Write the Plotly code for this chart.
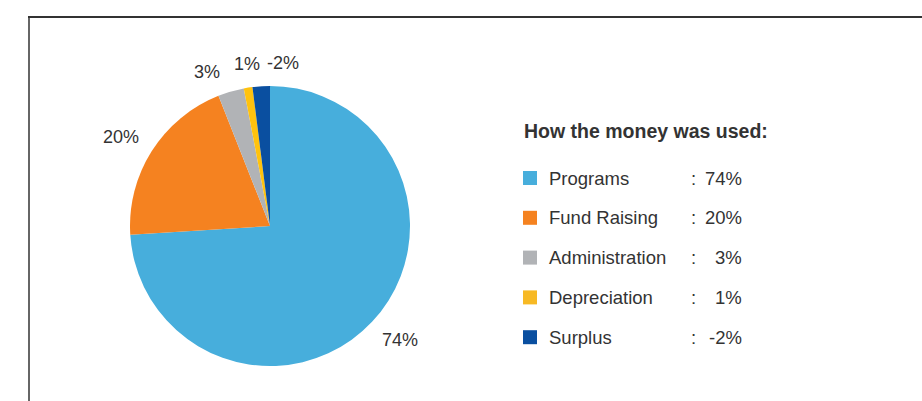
import math
import plotly.graph_objects as go

categories = ["Programs", "Fund Raising", "Administration", "Depreciation", "Surplus"]
percent = [74, 20, 3, 1, -2]
slice_colors = ["#47AEDC", "#F58220", "#B1B3B6", "#FFC20E", "#0A4FA0"]
legend_colors = ["#47AEDC", "#F58220", "#B1B3B6", "#F7B924", "#0A4FA0"]
title_text = "How the money was used:"

# label placement styling (angular nudge in degrees to avoid crowding)
label_shift_deg = [-2, -1.5, -6, 1, 8]

W, H = 922, 401
FONT = "Liberation Sans, Arial, sans-serif"
TXT = "#333333"
LBL_SIZE = 18

# pie geometry in pixels
CX, CY, R = 270, 226, 140

sizes = [abs(v) for v in percent]
total = sum(sizes)

fig = go.Figure()
fig.add_trace(go.Pie(
    labels=categories,
    values=sizes,
    text=[f"{v}%" for v in percent],
    textinfo="none",
    sort=False,
    direction="clockwise",
    rotation=0,
    marker=dict(colors=slice_colors, line=dict(width=0)),
    domain=dict(x=[(CX - R) / W, (CX + R) / W], y=[1 - (CY + R) / H, 1 - (CY - R) / H]),
    showlegend=False,
    hoverinfo="label+text",
))

def px(x):
    return x / W

def py(y):
    return 1 - y / H

annotations = []
# data labels outside the pie, at each slice's mid angle
cum = 0
for v, s, shift in zip(percent, sizes, label_shift_deg):
    mid = (cum + s / 2) / total * 360 + shift
    cum += s
    sx, sy = math.sin(math.radians(mid)), math.cos(math.radians(mid))
    txt = f"{v}%"
    w = sum(0.889 if ch == "%" else 0.556 if ch.isdigit() else 0.333 for ch in txt) * LBL_SIZE
    h = LBL_SIZE
    dist = R + 13 + abs(sx) * w / 2 + abs(sy) * h / 2
    annotations.append(dict(x=px(CX + dist * sx), y=py(CY - dist * sy), xref="paper", yref="paper",
                            text=txt, showarrow=False, xanchor="center", yanchor="middle",
                            font=dict(family=FONT, size=LBL_SIZE, color=TXT)))

shapes = [
    dict(type="line", xref="paper", yref="paper", x0=px(28), x1=px(922), y0=py(17), y1=py(17),
         line=dict(color="#333333", width=2)),
    dict(type="line", xref="paper", yref="paper", x0=px(29), x1=px(29), y0=py(16), y1=py(401),
         line=dict(color="#333333", width=1.5)),
]
annotations.append(dict(x=px(522), y=py(131), xref="paper", yref="paper", text=f"<b>{title_text}</b>",
                        showarrow=False, xanchor="left", yanchor="middle",
                        font=dict(family=FONT, size=19.5, color=TXT)))
for i, (cat, v, c) in enumerate(zip(categories, percent, legend_colors)):
    yc = 178 + i * 39.8
    shapes.append(dict(type="rect", xref="paper", yref="paper",
                       x0=px(523), x1=px(537), y0=py(yc - 7), y1=py(yc + 7),
                       fillcolor=c, line=dict(width=0)))
    annotations.append(dict(x=px(547), y=py(yc), xref="paper", yref="paper", text=cat,
                            showarrow=False, xanchor="left", yanchor="middle",
                            font=dict(family=FONT, size=18.5, color=TXT)))
    annotations.append(dict(x=px(693), y=py(yc), xref="paper", yref="paper", text=":",
                            showarrow=False, xanchor="center", yanchor="middle",
                            font=dict(family=FONT, size=18.5, color=TXT)))
    annotations.append(dict(x=px(744), y=py(yc), xref="paper", yref="paper", text=f"{v}%",
                            showarrow=False, xanchor="right", yanchor="middle",
                            font=dict(family=FONT, size=18.5, color=TXT)))

fig.update_layout(
    width=W, height=H,
    margin=dict(l=0, r=0, t=0, b=0),
    paper_bgcolor="white", plot_bgcolor="white",
    shapes=shapes, annotations=annotations,
)
fig.write_html("out.html", config={"displayModeBar": False},
               post_script="document.body.style.margin='0';document.body.style.overflow='hidden';")
